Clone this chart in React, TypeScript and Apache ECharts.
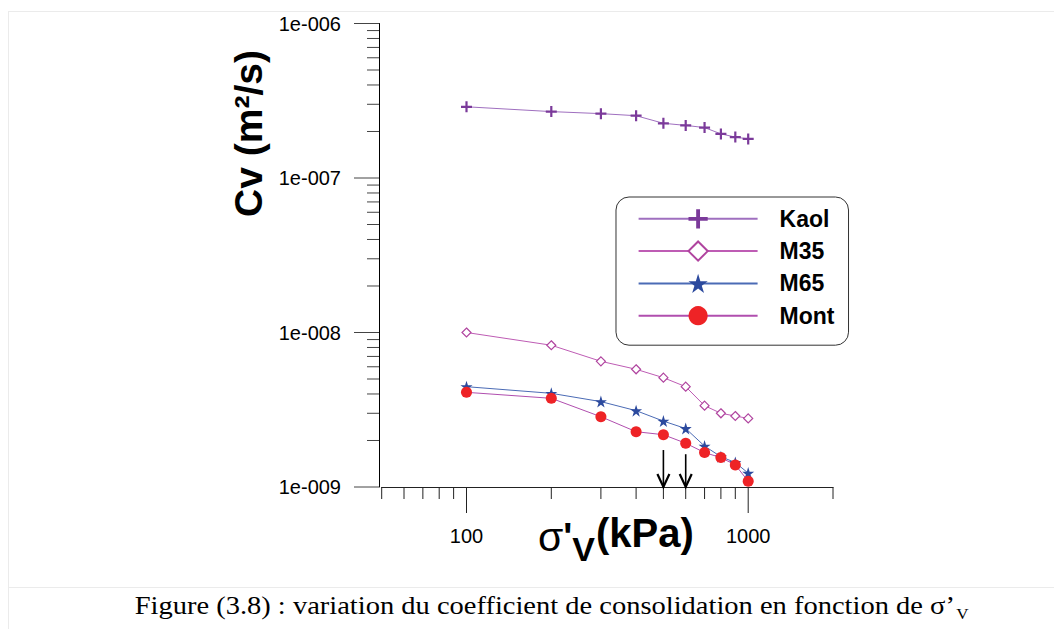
import React, { useEffect, useRef } from 'react';
import * as echarts from 'echarts';

// ---- data ----
const STRESS = [100, 200, 300, 400, 500, 600, 700, 800, 900, 1000];
const KAOL = [2.89e-7, 2.69e-7, 2.61e-7, 2.53e-7, 2.26e-7, 2.19e-7, 2.12e-7, 1.93e-7, 1.84e-7, 1.79e-7];
const M35 = [1.0e-8, 8.27e-9, 6.51e-9, 5.78e-9, 5.1e-9, 4.46e-9, 3.36e-9, 3.0e-9, 2.88e-9, 2.78e-9];
const M65 = [4.46e-9, 4.04e-9, 3.57e-9, 3.12e-9, 2.67e-9, 2.39e-9, 1.84e-9, 1.57e-9, 1.44e-9, 1.23e-9];
const MONT = [4.1e-9, 3.75e-9, 2.85e-9, 2.28e-9, 2.18e-9, 1.92e-9, 1.67e-9, 1.55e-9, 1.39e-9, 1.09e-9];

const SERIES_NAMES = ['Kaol', 'M35', 'M65', 'Mont'];

const X_MIN = 50;
const X_MAX = 2000;
const Y_MIN = 1e-9;
const Y_MAX = 1e-6;

const X_TICKS = [50, 60, 70, 80, 90, 100, 200, 300, 400, 500, 600, 700, 800, 900, 1000, 2000];
const Y_TICKS = [
  1e-9, 2e-9, 3e-9, 4e-9, 5e-9, 6e-9, 7e-9, 8e-9, 9e-9,
  1e-8, 2e-8, 3e-8, 4e-8, 5e-8, 6e-8, 7e-8, 8e-8, 9e-8,
  1e-7, 2e-7, 3e-7, 4e-7, 5e-7, 6e-7, 7e-7, 8e-7, 9e-7,
  1e-6,
];

const ARROW_X = [500, 600];
const ARROW_TOP = [1.735e-9, 1.63e-9];

const CAPTION = 'Figure (3.8) : variation du coefficient de consolidation en fonction de σ’';

// ---- symbols ----
const PLUS = 'path://M4,0H6V4H10V6H6V10H4V6H0V4H4Z';
const STAR =
  'path://M50,0L61.23,34.55L97.55,34.55L68.16,55.9L79.39,90.45L50,69.1L20.61,90.45L31.84,55.9L2.45,34.55L38.77,34.55Z';

const SANS = '"Liberation Sans", Arial, sans-serif';
const SERIF = '"Liberation Serif", "Times New Roman", serif';

const Y_AXIS_OFFSET = 2.7;

const isPow10 = (v: number) => {
  const l = Math.log10(v);
  return Math.abs(l - Math.round(l)) < 1e-6;
};

const pairs = (ys: number[]) => STRESS.map((x, i) => [x, ys[i]]);

export default function App() {
  const ref = useRef<HTMLDivElement>(null);

  useEffect(() => {
    document.body.style.margin = '0';
    if (!ref.current) return;
    const chart = echarts.init(ref.current, null, { renderer: 'svg' });

    const option: any = {
      animation: false,
      backgroundColor: '#fff',
      grid: { left: 381.7, right: 221, top: 23.5, bottom: 142, containLabel: false },
      xAxis: {
        type: 'log',
        logBase: 10,
        min: X_MIN,
        max: X_MAX,
        axisLine: { show: true, lineStyle: { color: '#222', width: 1 } },
        axisTick: { show: false },
        minorTick: { show: false },
        splitLine: { show: false },
        axisLabel: {
          margin: 39,
          fontSize: 20,
          fontFamily: SANS,
          color: '#000',
          formatter: (v: number) => (isPow10(v) ? String(Math.round(v)) : ''),
        },
      },
      yAxis: {
        type: 'log',
        logBase: 10,
        min: Y_MIN,
        max: Y_MAX,
        offset: Y_AXIS_OFFSET,
        axisLine: { show: true, lineStyle: { color: '#000', width: 1 } },
        axisTick: { show: false },
        minorTick: { show: false },
        splitLine: { show: false },
        axisLabel: {
          margin: 38,
          fontSize: 20,
          fontFamily: SANS,
          color: '#000',
          formatter: (v: number) => {
            const e = Math.round(Math.log10(v));
            return '1e-' + String(-e).padStart(3, '0');
          },
        },
      },
      legend: {
        data: SERIES_NAMES,
        orient: 'vertical',
        left: 616,
        top: 197,
        itemWidth: 119,
        itemHeight: 24,
        itemGap: 9.3,
        padding: [10.3, 14, 18, 21.6],
        borderColor: '#333',
        borderWidth: 1,
        borderRadius: 13,
        selectedMode: false,
        textStyle: {
          fontFamily: SANS,
          fontWeight: 'bold',
          fontSize: 23,
          color: '#000',
          padding: [0, 0, 0, 17],
        },
      },
      series: [
        {
          name: 'Kaol',
          type: 'line',
          data: pairs(KAOL),
          symbol: PLUS,
          symbolSize: 11,
          itemStyle: { color: '#7B3A9A' },
          lineStyle: { color: '#9F6FBF', width: 1 },
          emphasis: { disabled: true },
          z: 3,
        },
        {
          name: 'M35',
          type: 'line',
          data: pairs(M35),
          symbol: 'diamond',
          symbolSize: 9,
          itemStyle: { color: '#fff', borderColor: '#B0449F', borderWidth: 1.2 },
          lineStyle: { color: '#BE5CB4', width: 1 },
          emphasis: { disabled: true },
          z: 3,
        },
        {
          name: 'M65',
          type: 'line',
          data: pairs(M65),
          symbol: STAR,
          symbolSize: 12,
          itemStyle: { color: '#2C4A9E' },
          lineStyle: { color: '#4B6BB5', width: 1 },
          emphasis: { disabled: true },
          z: 3,
        },
        {
          name: 'Mont',
          type: 'line',
          data: pairs(MONT),
          symbol: 'circle',
          symbolSize: 11,
          itemStyle: { color: '#EE2326' },
          lineStyle: { color: '#B04EAE', width: 1 },
          emphasis: { disabled: true },
          z: 3,
        },
        {
          type: 'custom',
          name: 'xticks',
          coordinateSystem: 'cartesian2d',
          silent: true,
          clip: false,
          z: 5,
          data: X_TICKS.map((v) => [v, Y_MIN]),
          renderItem: (_p: any, api: any) => {
            const v = api.value(0);
            const pt = api.coord([v, api.value(1)]);
            const len = isPow10(v) ? 26 : 12;
            return {
              type: 'line',
              shape: { x1: pt[0], y1: pt[1], x2: pt[0], y2: pt[1] + len },
              style: { stroke: '#222', lineWidth: 1 },
            };
          },
        },
        {
          type: 'custom',
          name: 'yticks',
          coordinateSystem: 'cartesian2d',
          silent: true,
          clip: false,
          z: 5,
          data: Y_TICKS.map((v) => [X_MIN, v]),
          renderItem: (_p: any, api: any) => {
            const v = api.value(1);
            const pt = api.coord([api.value(0), v]);
            const x0 = pt[0] - Y_AXIS_OFFSET;
            const len = isPow10(v) ? 25 : 12;
            return {
              type: 'line',
              shape: { x1: x0 - len, y1: pt[1], x2: x0, y2: pt[1] },
              style: { stroke: '#444', lineWidth: 1 },
            };
          },
        },
        {
          type: 'custom',
          name: 'arrows',
          coordinateSystem: 'cartesian2d',
          silent: true,
          clip: false,
          z: 6,
          encode: { x: 0, y: [1, 2] },
          data: ARROW_X.map((x, i) => [x, ARROW_TOP[i], Y_MIN]),
          renderItem: (_p: any, api: any) => {
            const top = api.coord([api.value(0), api.value(1)]);
            const bot = api.coord([api.value(0), api.value(2)]);
            return {
              type: 'group',
              children: [
                {
                  type: 'line',
                  shape: { x1: top[0], y1: top[1], x2: bot[0], y2: bot[1] + 1 },
                  style: { stroke: '#000', lineWidth: 1.6 },
                },
                {
                  type: 'polyline',
                  shape: {
                    points: [
                      [bot[0] - 6, bot[1] - 13],
                      [bot[0], bot[1]],
                      [bot[0] + 6, bot[1] - 13],
                    ],
                  },
                  style: { stroke: '#000', lineWidth: 2.2, fill: 'none' },
                },
              ],
            };
          },
        },
      ],
      graphic: [
        { type: 'line', silent: true, shape: { x1: 8, y1: 11.5, x2: 1054, y2: 11.5 }, style: { stroke: '#ebebeb', lineWidth: 1 } },
        { type: 'line', silent: true, shape: { x1: 8.5, y1: 11.5, x2: 8.5, y2: 629 }, style: { stroke: '#ebebeb', lineWidth: 1 } },
        { type: 'line', silent: true, shape: { x1: 8, y1: 587.5, x2: 1054, y2: 587.5 }, style: { stroke: '#ebebeb', lineWidth: 1 } },
        {
          type: 'text',
          silent: true,
          x: 248,
          y: 133.5,
          rotation: Math.PI / 2,
          style: {
            text: 'Cv (m²/s)',
            fontFamily: SANS,
            fontWeight: 'bold',
            fontSize: 39,
            fill: '#000',
            align: 'center',
            verticalAlign: 'middle',
            textAlign: 'center',
            textVerticalAlign: 'middle',
          },
        },
        {
          type: 'text',
          silent: true,
          x: 538,
          y: 510,
          style: {
            text: "{s|σ}{q|'}{v|V}{k|(kPa)}",
            fill: '#000',
            align: 'left',
            verticalAlign: 'top',
            textAlign: 'left',
            textVerticalAlign: 'top',
            rich: {
              s: { fontFamily: SANS, fontSize: 41, lineHeight: 41, verticalAlign: 'top', padding: [6, 0, 0, 0] },
              q: { fontFamily: SANS, fontWeight: 'bold', fontSize: 38, lineHeight: 38, verticalAlign: 'top', padding: [8, 0, 0, 0] },
              v: { fontFamily: SANS, fontWeight: 'bold', fontSize: 34, lineHeight: 34, verticalAlign: 'top', padding: [22, 0, 0, 0] },
              k: { fontFamily: SANS, fontWeight: 'bold', fontSize: 40, lineHeight: 40, verticalAlign: 'top', padding: [3, 0, 0, 1] },
            },
          },
        },
        {
          type: 'text',
          silent: true,
          x: 551.5,
          y: 593,
          scaleX: 1.14,
          style: {
            text: '{a|' + CAPTION + '}{b|V}',
            fill: '#000',
            align: 'center',
            verticalAlign: 'top',
            textAlign: 'center',
            textVerticalAlign: 'top',
            rich: {
              a: { fontFamily: SERIF, fontSize: 25, lineHeight: 25, verticalAlign: 'top', padding: [0, 0, 0, 0] },
              b: { fontFamily: SERIF, fontSize: 15, lineHeight: 15, verticalAlign: 'top', padding: [13, 0, 0, 1] },
            },
          },
        },
      ],
    };

    chart.setOption(option);
    return () => chart.dispose();
  }, []);

  return <div ref={ref} style={{ width: 1054, height: 629 }} />;
}
